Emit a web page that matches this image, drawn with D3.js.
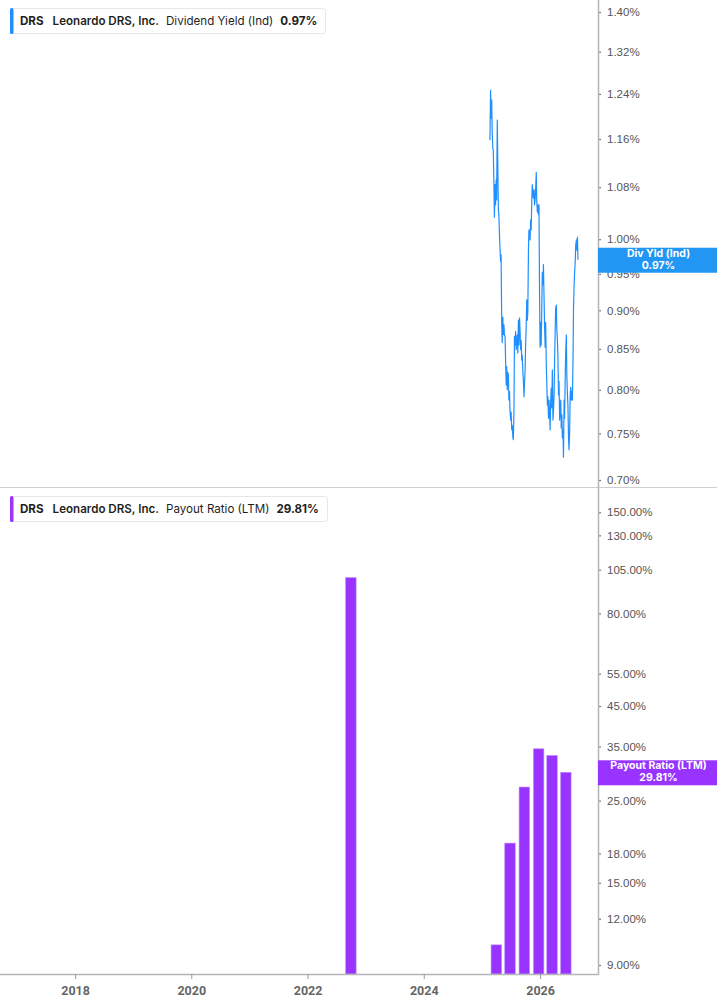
<!DOCTYPE html>
<html><head><meta charset="utf-8">
<script src="https://cdn.jsdelivr.net/npm/d3@7"></script>
<style>
html,body{margin:0;padding:0;background:#fff;}
svg{display:block;}
</style></head>
<body>
<script>
// ---------- DATA ----------
const divDates = [
"2025-02-20","2025-02-24","2025-02-27",
"2025-03-03","2025-03-06","2025-03-10","2025-03-13","2025-03-17","2025-03-20","2025-03-24","2025-03-27","2025-03-31",
"2025-04-03","2025-04-07","2025-04-10","2025-04-14","2025-04-17","2025-04-21","2025-04-24","2025-04-28",
"2025-05-01","2025-05-05","2025-05-08","2025-05-12","2025-05-15","2025-05-19","2025-05-22","2025-05-26","2025-05-29",
"2025-06-02","2025-06-05","2025-06-09","2025-06-12","2025-06-16","2025-06-19","2025-06-23","2025-06-26","2025-06-30",
"2025-07-03","2025-07-07","2025-07-10","2025-07-14","2025-07-17","2025-07-21","2025-07-24","2025-07-28","2025-07-31",
"2025-08-04","2025-08-07","2025-08-11","2025-08-14","2025-08-18","2025-08-21","2025-08-25","2025-08-28",
"2025-09-01","2025-09-04","2025-09-08","2025-09-11","2025-09-15","2025-09-18","2025-09-22","2025-09-25","2025-09-29",
"2025-10-02","2025-10-06","2025-10-09","2025-10-13","2025-10-16","2025-10-20","2025-10-23","2025-10-27","2025-10-30",
"2025-11-03","2025-11-06","2025-11-10","2025-11-13","2025-11-17","2025-11-20","2025-11-24","2025-11-27",
"2025-12-01","2025-12-04","2025-12-08","2025-12-11","2025-12-15","2025-12-18","2025-12-22","2025-12-25","2025-12-29",
"2026-01-01","2026-01-05","2026-01-08","2026-01-12","2026-01-15","2026-01-19","2026-01-22","2026-01-26","2026-01-29",
"2026-02-02","2026-02-05","2026-02-09","2026-02-12","2026-02-16","2026-02-19","2026-02-23","2026-02-26",
"2026-03-02","2026-03-05","2026-03-09","2026-03-12","2026-03-16","2026-03-19","2026-03-23","2026-03-26","2026-03-30",
"2026-04-02","2026-04-06","2026-04-09","2026-04-13","2026-04-16","2026-04-20","2026-04-23","2026-04-27","2026-04-30",
"2026-05-04","2026-05-07","2026-05-11","2026-05-14","2026-05-18","2026-05-21","2026-05-25","2026-05-28",
"2026-06-01","2026-06-04","2026-06-08","2026-06-11","2026-06-15","2026-06-18","2026-06-22","2026-06-25","2026-06-29",
"2026-07-02","2026-07-06","2026-07-09","2026-07-13","2026-07-16","2026-07-20","2026-07-23","2026-07-27","2026-07-30",
"2026-08-03","2026-08-06","2026-08-10","2026-08-13","2026-08-17","2026-08-20","2026-08-24","2026-08-27"
];
const divValues = [
1.158,1.247,1.196,
1.229,1.172,1.144,1.141,1.084,1.033,1.084,1.052,1.092,
1.060,1.193,1.124,1.044,1.037,1.006,0.987,0.968,
0.977,0.881,0.858,0.891,0.868,0.881,0.868,0.866,0.838,
0.806,0.828,0.800,0.821,0.818,0.788,0.798,0.776,0.765,
0.774,0.754,0.759,0.746,0.743,0.776,0.866,0.855,0.872,
0.849,0.861,0.868,0.845,0.887,0.855,0.890,0.874,
0.849,0.861,0.836,0.842,0.821,0.812,0.792,0.806,0.824,
0.855,0.881,0.914,0.887,0.898,0.984,1.014,1.006,0.999,
1.029,1.014,1.060,1.084,1.071,1.063,1.076,1.052,
1.060,1.076,1.104,1.060,1.041,1.052,1.037,1.052,0.914,
0.852,0.884,0.855,0.907,0.952,0.935,0.963,0.917,0.881,
0.852,0.884,0.830,0.810,0.782,0.792,0.767,0.788,
0.774,0.754,0.788,0.802,0.779,0.824,0.765,0.774,0.794,
0.830,0.876,0.903,0.907,0.876,0.861,0.842,0.794,0.810,
0.765,0.776,0.788,0.756,0.771,0.745,0.754,0.724,
0.788,0.767,0.815,0.846,0.868,0.818,0.794,0.782,0.743,
0.732,0.754,0.794,0.803,0.788,0.798,0.788,0.836,0.901,
0.935,0.952,0.968,0.991,0.999,0.984,1.003,0.970
];
const payoutDates = ["2022-09-30","2025-04-01","2025-06-26","2025-09-24","2025-12-23","2026-03-17","2026-06-12"];
const payoutValues = [100.0, 10.2, 19.2, 27.2, 34.5, 33.1, 29.81];
const yieldTicks = [0.70,0.75,0.80,0.85,0.90,0.95,1.00,1.08,1.16,1.24,1.32,1.40];
const payoutTicks = [9,12,15,18,25,35,45,55,80,105,130,150];
const yearTicks = ["2018","2020","2022","2024","2026"];
const xDomain = ["2016-09-16","2026-12-31"];
const ticker = "DRS", company = "Leonardo DRS, Inc.";
const yieldName = "Dividend Yield (Ind)", yieldShort = "Div Yld (Ind)";
const payoutName = "Payout Ratio (LTM)";

// ---------- LAYOUT ----------
const W = 717, H = 1005;
const plotR = 598;
const topPanel = {y0: 0, y1: 487};
const botPanel = {y0: 487, y1: 974};
const blue = "#1e8fff", purple = "#9933ff";
const parse = d3.utcParse("%Y-%m-%d");

const svg = d3.select("body").append("svg").attr("width", W).attr("height", H)
  .style("font-family", "'Liberation Sans', Arial, sans-serif");

const x = d3.scaleUtc().domain(xDomain.map(parse)).range([0, plotR]);
const yTop = d3.scaleLog().domain([0.70, 1.40]).range([480, 12]);
const yBot = d3.scaleLog().domain([9, 150]).range([965, 512.3]);

const defs = svg.append("defs");
defs.append("clipPath").attr("id","clipTop").append("rect")
  .attr("x",0).attr("y",topPanel.y0).attr("width",plotR).attr("height",topPanel.y1-topPanel.y0);
defs.append("clipPath").attr("id","clipBot").append("rect")
  .attr("x",0).attr("y",botPanel.y0).attr("width",plotR).attr("height",botPanel.y1-botPanel.y0);

// ---------- TOP: dividend yield line ----------
const divData = divDates.map((d,i)=>({date: parse(d), v: divValues[i]}));
svg.append("path").datum(divData)
  .attr("clip-path","url(#clipTop)")
  .attr("fill","none").attr("stroke", blue).attr("stroke-width", 1.2)
  .attr("stroke-linejoin","round")
  .attr("d", d3.line().x(d=>x(d.date)).y(d=>yTop(d.v)));

// ---------- BOTTOM: payout bars ----------
const payData = payoutDates.map((d,i)=>({date: parse(d), v: payoutValues[i]}));
const halfDays = 33;
svg.append("g").attr("clip-path","url(#clipBot)")
  .selectAll("rect").data(payData).join("rect")
  .attr("x", d=>x(d3.utcDay.offset(d.date,-halfDays)))
  .attr("width", d=>x(d3.utcDay.offset(d.date,halfDays)) - x(d3.utcDay.offset(d.date,-halfDays)))
  .attr("y", d=>yBot(d.v))
  .attr("height", d=>botPanel.y1 - yBot(d.v))
  .attr("fill", purple).attr("stroke","#c190ff").attr("stroke-width",0.6);

// ---------- separator & axes ----------
svg.append("line").attr("x1",0).attr("x2",W).attr("y1",topPanel.y1+0.5).attr("y2",topPanel.y1+0.5)
  .attr("stroke","#cfcfcf").attr("stroke-width",1);

function rightAxis(scale, ticks, fmt, y0, y1){
  const g = svg.append("g").attr("transform",`translate(${plotR},0)`);
  const ax = d3.axisRight(scale).tickValues(ticks).tickFormat(fmt).tickSize(3).tickPadding(6);
  g.call(ax);
  g.select(".domain").remove();
  g.selectAll(".tick line").attr("stroke","#777").attr("stroke-width",1.2);
  g.selectAll(".tick text").attr("fill","#555").style("font-size","11.5px")
    .style("font-family","'Liberation Sans', Arial, sans-serif");
  g.append("line").attr("x1",0.5).attr("x2",0.5).attr("y1",y0).attr("y2",y1)
    .attr("stroke","#b5b5b5").attr("stroke-width",1.5);
  return g;
}
rightAxis(yTop, yieldTicks, d=>d3.format(".2f")(d)+"%", topPanel.y0, topPanel.y1);
rightAxis(yBot, payoutTicks, d=>d3.format(".2f")(d)+"%", botPanel.y0, botPanel.y1+1);

// x axis
const gx = svg.append("g").attr("transform",`translate(0,${botPanel.y1})`);
gx.call(d3.axisBottom(x).tickValues(yearTicks.map(y=>parse(y+"-01-01")))
  .tickFormat(d3.utcFormat("%Y")).tickSize(5).tickPadding(7));
gx.select(".domain").attr("stroke","#b5b5b5").attr("stroke-width",1.5)
  .attr("d", `M0,0.5H${plotR}`);
gx.selectAll(".tick line").attr("stroke","#999").attr("stroke-width",1);
gx.selectAll(".tick text").attr("fill","#666").style("font-size","12.5px").style("font-weight","bold")
  .style("font-family","Roboto, 'Liberation Sans', Arial, sans-serif");

// ---------- right value labels ----------
function valueLabel(yPos, color, l1, l2){
  const g = svg.append("g");
  g.append("rect").attr("x",plotR).attr("y",yPos-12).attr("width",W-plotR).attr("height",25).attr("fill",color);
  [[l1,-3],[l2,9]].forEach(([t,dy])=>{
    g.append("text").attr("x",(plotR+W)/2+1).attr("y",yPos+dy).attr("text-anchor","middle")
      .attr("fill","#fff").style("font-size","10.5px").style("font-weight","bold")
      .style("font-family","Inter, 'Noto Sans', sans-serif").text(t);
  });
}
const lastDiv = divValues[divValues.length-1];
const lastPay = payoutValues[payoutValues.length-1];
valueLabel(yTop(lastDiv), "#2196f3", yieldShort, d3.format(".2f")(lastDiv)+"%");
valueLabel(yBot(lastPay), purple, payoutName, d3.format(".2f")(lastPay)+"%");

// ---------- legends ----------
function legend(y, color, metric, val, w){
  const g = svg.append("g").style("font-family","Inter, 'Noto Sans', sans-serif").style("font-size","11.6px");
  g.append("rect").attr("x",10.5).attr("y",y+0.5).attr("width",w).attr("height",25).attr("rx",3)
    .attr("fill","#fff").attr("stroke","#e6e6e6");
  g.append("rect").attr("x",10).attr("y",y).attr("width",3.5).attr("height",26).attr("rx",1.5).attr("fill",color);
  const ty = y+17;
  const t = g.append("text").attr("x",20).attr("y",ty).attr("fill","#1f1f1f");
  t.append("tspan").style("font-weight","700").text(ticker);
  t.append("tspan").attr("dx",9).style("font-weight","600").text(company);
  t.append("tspan").attr("dx",7).style("font-weight","400").text(metric);
  t.append("tspan").attr("dx",7).style("font-weight","700").text(val);
}
legend(8, blue, yieldName, d3.format(".2f")(lastDiv)+"%", 315);
legend(496, purple, payoutName, d3.format(".2f")(lastPay)+"%", 317);
</script>
</body></html>
